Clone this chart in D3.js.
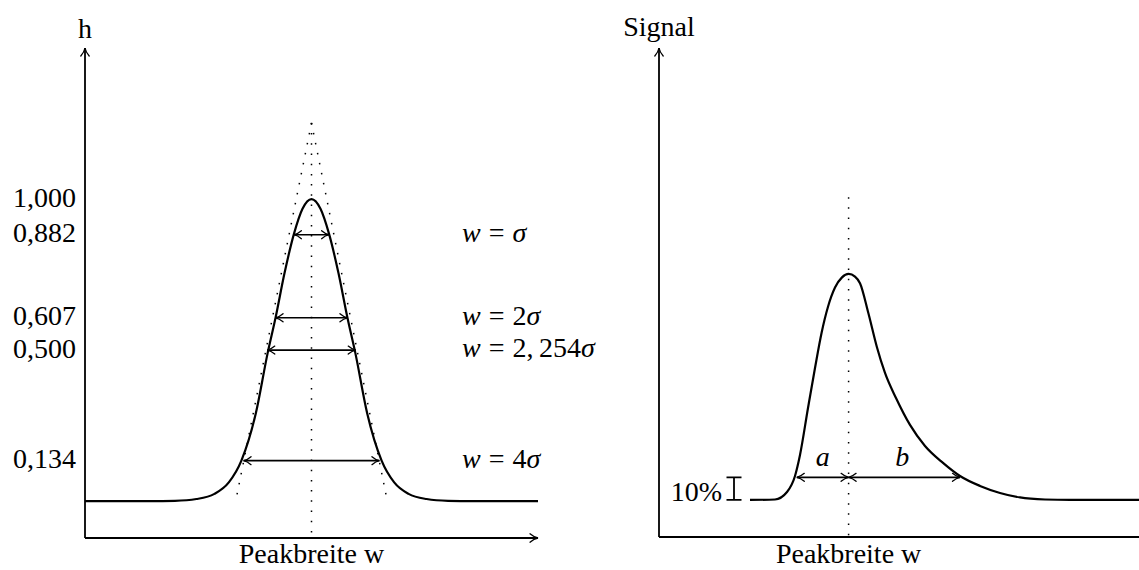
<!DOCTYPE html>
<html lang="de">
<head>
    <meta charset="UTF-8">
    <title>Peakbreite</title>
    <script src="https://cdn.jsdelivr.net/npm/d3@7"></script>
    <style>
        body { margin: 0; background: #fff; }
        text { font-family: "Liberation Serif", "Times New Roman", serif; fill: #000; }
    </style>
</head>
<body>
<script>
    // linkes Bild: Gauss-Peak, x in sigma-Einheiten, h relativ
    var gaussX = [-6.3, -4.5, -3.8, -3.2, -2.7, -2.3, -1.95, -1.55, -1.22, -1.0, -0.75, -0.49, -0.25, 0,
                  0.25, 0.49, 0.75, 1.0, 1.22, 1.55, 1.95, 2.3, 2.7, 3.2, 3.8, 4.5, 6.3];
    var gaussH = [0, 0, 0.001, 0.007, 0.024, 0.062, 0.134, 0.29, 0.49, 0.607, 0.755, 0.884, 0.968, 1,
                  0.968, 0.884, 0.755, 0.607, 0.49, 0.29, 0.134, 0.062, 0.024, 0.007, 0.001, 0, 0];
    var tickValues = [1.000, 0.882, 0.607, 0.500, 0.134];
    var tickLabels = ["1,000", "0,882", "0,607", "0,500", "0,134"];
    var widthLevels = [0.882, 0.607, 0.500, 0.134];
    var widthHalf = [0.49, 1.0, 1.23, 1.89];          // halbe Pfeillaenge in sigma
    var widthFactor = ["", "2", "2,\u2009254", "4"];   // w = ... sigma
    var tangentApex = 1.252;
    var tangentFoot = 2.1;

    // rechtes Bild: asymmetrischer Peak (Tailing)
    var tailX = [4.55, 5.8, 6.4, 6.8, 7.05, 7.45, 7.8, 8.13, 8.45, 8.8, 9.15, 9.48, 9.8, 10.05, 10.47, 10.89, 11.3,
                 11.85, 12.55, 13.3, 14.2, 15.05, 16.05, 17.05, 18.05, 19.3, 20.55, 24.3];
    var tailS = [0, 0.002, 0.035, 0.106, 0.199, 0.407, 0.584, 0.74, 0.855, 0.94, 0.985, 1, 0.988, 0.959, 0.826, 0.678, 0.562,
                 0.451, 0.332, 0.239, 0.164, 0.106, 0.062, 0.031, 0.011, 0.002, 0, 0];
    var tailPeak = 9.48;
    var tenPct = 0.1;
    var aLeft = 6.89, bRight = 15.05;
    var markX = 3.75;

    var width = 1139, height = 570;
    var svg = d3.select("body").append("svg")
            .attr("width", width)
            .attr("height", height);

    var defs = svg.append("defs");
    function marker(id, len, half, sw) {
        defs.append("marker")
                .attr("id", id)
                .attr("markerUnits", "userSpaceOnUse")
                .attr("viewBox", (-len - 2) + " " + (-half - 2) + " " + (len + 4) + " " + (2 * half + 4))
                .attr("refX", 0).attr("refY", 0)
                .attr("markerWidth", len + 4).attr("markerHeight", 2 * half + 4)
                .attr("orient", "auto-start-reverse")
                .append("path")
                .attr("d", "M" + (-len) + "," + (-half) + " C" + (-len * 0.6) + "," + (-half * 0.35) + " " + (-len * 0.2) + ",-0.3 0,0" +
                        " C" + (-len * 0.2) + ",0.3 " + (-len * 0.6) + "," + (half * 0.35) + " " + (-len) + "," + half)
                .style("fill", "none").style("stroke", "#000").style("stroke-width", sw)
                .style("stroke-linecap", "round");
    }
    marker("tip", 7.5, 4, 1.3);
    marker("axtip", 8, 4.2, 1.3);

    var line = d3.line().curve(d3.curveMonotoneX);

    // ---------- links ----------
    var xL = d3.scaleLinear().domain([-6.3, 6.3]).range([85, 538]);
    var yL = d3.scaleLinear().domain([-0.122, 1.5]).range([538, 48]);
    var gL = svg.append("g");

    // Achsen
    gL.append("path")
            .attr("d", "M" + xL(-6.3) + "," + yL(-0.122) + " L" + xL(-6.3) + "," + yL(1.5))
            .style("stroke", "#000").style("stroke-width", 1.8).style("fill", "none")
            .attr("marker-end", "url(#axtip)");
    gL.append("path")
            .attr("d", "M" + xL(-6.3) + "," + yL(-0.122) + " L" + xL(6.3) + "," + yL(-0.122))
            .style("stroke", "#000").style("stroke-width", 1.8).style("fill", "none")
            .attr("marker-end", "url(#axtip)");

    // gepunktete Mittellinie und Wendetangenten
    var dots = function (sel) {
        sel.style("stroke", "#000").style("stroke-width", 1.5).style("fill", "none")
                .style("stroke-dasharray", "1.5 8.7");
    };
    gL.append("line")
            .attr("x1", xL(0)).attr("y1", yL(tangentApex))
            .attr("x2", xL(0)).attr("y2", yL(-0.122))
            .call(dots);
    [-1, 1].forEach(function (s) {
        gL.append("line")
                .attr("x1", xL(0)).attr("y1", yL(tangentApex))
                .attr("x2", xL(s * tangentFoot)).attr("y2", yL(0.005))
                .call(dots);
    });

    // Kurve
    gL.append("path")
            .attr("d", line(gaussX.map(function (x, i) { return [xL(x), yL(gaussH[i])]; })))
            .style("fill", "none").style("stroke", "#000").style("stroke-width", 2.2);

    // Breitenpfeile
    gL.selectAll(".wArrow")
            .data(widthLevels)
            .enter().append("line")
            .attr("x1", function (d, i) { return xL(-widthHalf[i]); })
            .attr("x2", function (d, i) { return xL(widthHalf[i]); })
            .attr("y1", function (d) { return yL(d); })
            .attr("y2", function (d) { return yL(d); })
            .style("stroke", "#000").style("stroke-width", 1.6)
            .attr("marker-start", "url(#tip)").attr("marker-end", "url(#tip)");

    // Beschriftung der Hoehen
    gL.selectAll(".tick")
            .data(tickValues)
            .enter().append("text")
            .attr("x", 76)
            .attr("y", function (d) { return yL(d); })
            .attr("dy", "0.27em")
            .attr("text-anchor", "end")
            .style("font-size", "28px")
            .text(function (d, i) { return tickLabels[i]; });

    // w = ...
    widthLevels.forEach(function (d, i) {
        var t = gL.append("text")
                .attr("x", 462).attr("y", yL(d)).attr("dy", "0.25em")
                .style("font-size", "28px");
        t.append("tspan").style("font-style", "italic").text("w");
        t.append("tspan").attr("dx", 8).text("=");
        if (widthFactor[i]) {
            t.append("tspan").attr("dx", 8).text(widthFactor[i]);
            t.append("tspan").style("font-style", "italic").text("σ");
        } else {
            t.append("tspan").attr("dx", 8).style("font-style", "italic").text("σ");
        }
    });

    gL.append("text").attr("x", xL(-6.3)).attr("y", 38)
            .attr("text-anchor", "middle").style("font-size", "28px").text("h");
    gL.append("text").attr("x", xL(0)).attr("y", 563)
            .attr("text-anchor", "middle").style("font-size", "28px").text("Peakbreite w");

    // ---------- rechts ----------
    var xR = d3.scaleLinear().domain([0, 24]).range([659, 1139]);
    var yR = d3.scaleLinear().domain([-0.164, 2.0]).range([537, 48]);
    var gR = svg.append("g");

    gR.append("path")
            .attr("d", "M" + xR(0) + "," + yR(-0.164) + " L" + xR(0) + "," + yR(2.0))
            .style("stroke", "#000").style("stroke-width", 1.8).style("fill", "none")
            .attr("marker-end", "url(#axtip)");
    gR.append("path")
            .attr("d", "M" + xR(0) + "," + yR(-0.164) + " L" + xR(24.6) + "," + yR(-0.164))
            .style("stroke", "#000").style("stroke-width", 1.8).style("fill", "none")
            .attr("marker-end", "url(#axtip)");

    gR.append("line")
            .attr("x1", xR(tailPeak)).attr("y1", yR(1.34))
            .attr("x2", xR(tailPeak)).attr("y2", yR(-0.164))
            .call(dots);

    gR.append("path")
            .attr("d", line(tailX.map(function (x, i) { return [xR(x), yR(tailS[i])]; })))
            .style("fill", "none").style("stroke", "#000").style("stroke-width", 2.2);

    // a und b
    [[aLeft, tailPeak], [tailPeak, bRight]].forEach(function (p) {
        gR.append("line")
                .attr("x1", xR(p[0])).attr("x2", xR(p[1]))
                .attr("y1", yR(tenPct)).attr("y2", yR(tenPct))
                .style("stroke", "#000").style("stroke-width", 1.6)
                .attr("marker-start", "url(#tip)").attr("marker-end", "url(#tip)");
    });
    gR.append("text").attr("x", xR((aLeft + tailPeak) / 2)).attr("y", yR(tenPct) - 11)
            .attr("text-anchor", "middle").style("font-size", "28px").style("font-style", "italic").text("a");
    gR.append("text").attr("x", xR((tailPeak + bRight) / 2) - 2).attr("y", yR(tenPct) - 11)
            .attr("text-anchor", "middle").style("font-size", "28px").style("font-style", "italic").text("b");

    // 10 % Markierung
    gR.append("path")
            .attr("d", "M" + (xR(markX) - 7.5) + "," + yR(tenPct) + " H" + (xR(markX) + 7.5) +
                    " M" + xR(markX) + "," + yR(tenPct) + " V" + yR(0) +
                    " M" + (xR(markX) - 7.5) + "," + yR(0) + " H" + (xR(markX) + 7.5))
            .style("fill", "none").style("stroke", "#000").style("stroke-width", 1.8);
    gR.append("text").attr("x", xR(markX) - 12).attr("y", yR(0)).attr("dy", "0.05em")
            .attr("text-anchor", "end").style("font-size", "28px").text("10%");

    gR.append("text").attr("x", xR(0)).attr("y", 36)
            .attr("text-anchor", "middle").style("font-size", "28px").text("Signal");
    gR.append("text").attr("x", xR(tailPeak)).attr("y", 563)
            .attr("text-anchor", "middle").style("font-size", "28px").text("Peakbreite w");
</script>
</body>
</html>
